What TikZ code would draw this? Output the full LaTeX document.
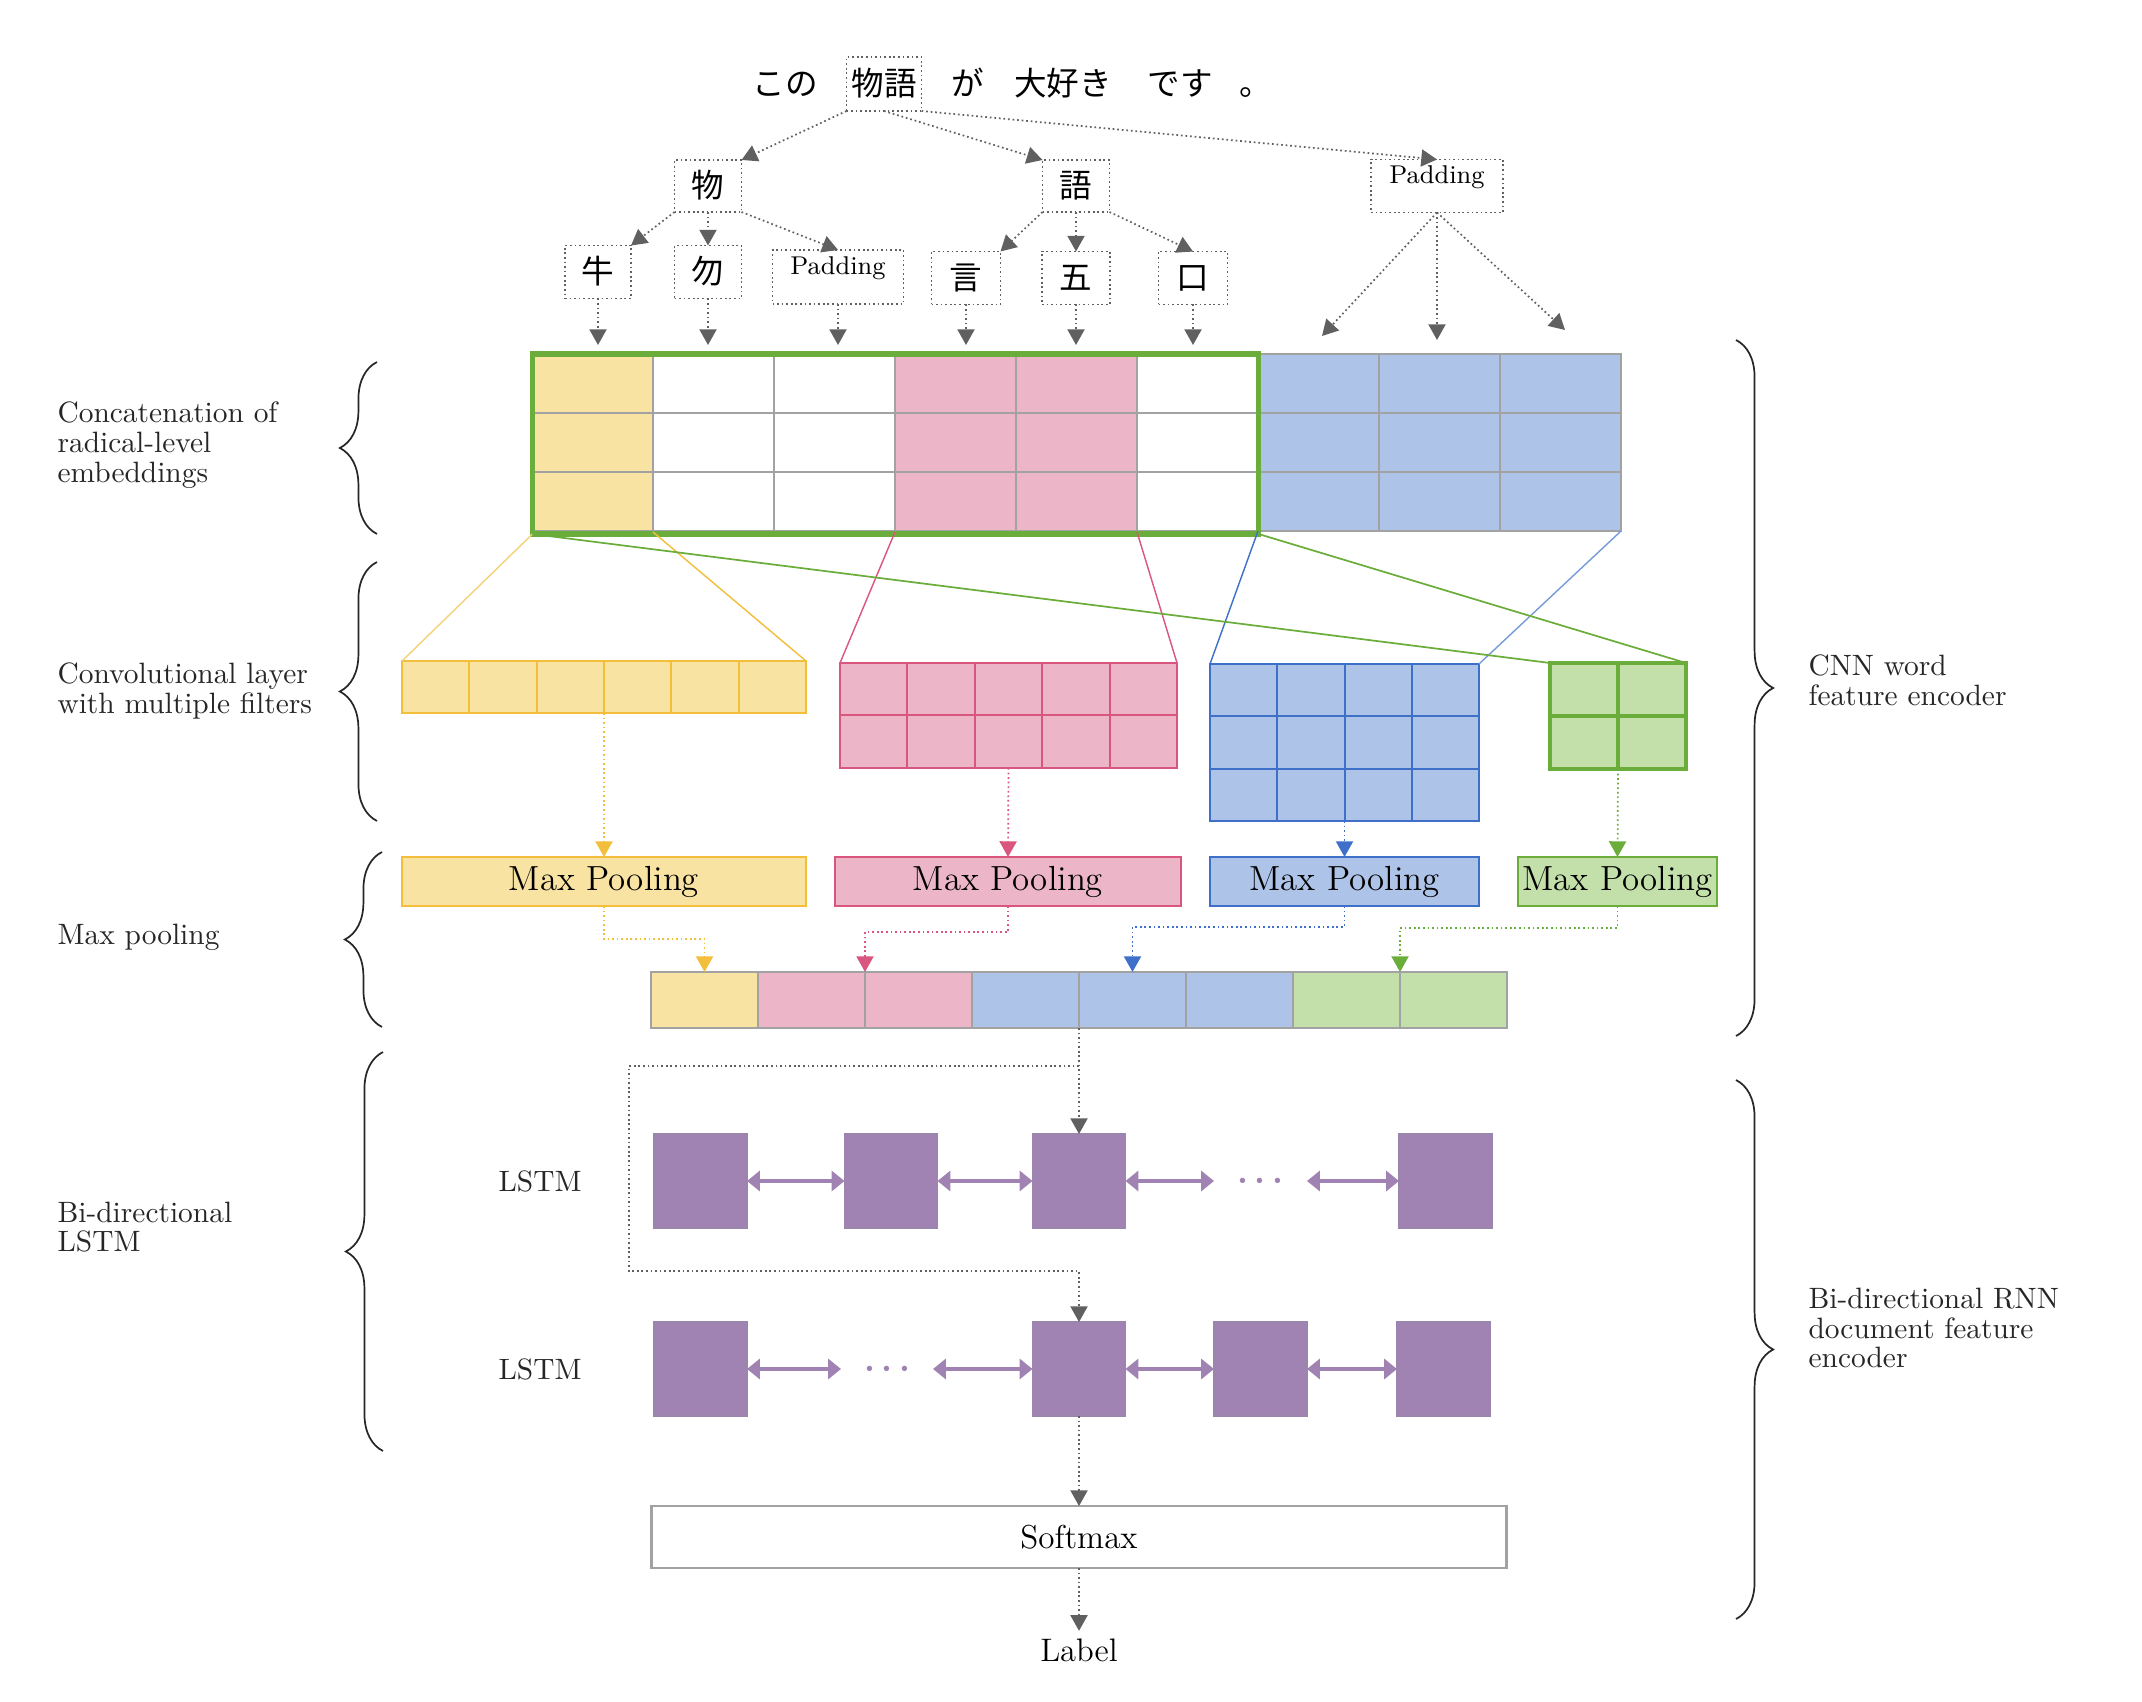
\documentclass[tikz,border=0pt]{standalone}
\usepackage{fontspec}
\newfontfamily\jpfont{Noto Sans CJK JP}
\usetikzlibrary{arrows.meta,decorations.pathreplacing,calc}
\definecolor{cyel}{HTML}{F9E3A2}
\definecolor{cyelD}{HTML}{F2BE3C}
\definecolor{cyelL}{HTML}{F3D27A}
\definecolor{cpink}{HTML}{ECB6C8}
\definecolor{cpinkD}{HTML}{D9567F}
\definecolor{cblue}{HTML}{AEC3E8}
\definecolor{cblueD}{HTML}{3E70C9}
\definecolor{cgreen}{HTML}{C3DFAA}
\definecolor{cgreenD}{HTML}{6AAD3A}
\definecolor{cpurp}{HTML}{A083B3}
\definecolor{cpurpD}{HTML}{9A86AA}
\definecolor{cgrid}{HTML}{A2A2A2}
\definecolor{carrow}{HTML}{606060}
\tikzset{
  px/.style 2 args={minimum width=#1*0.35pt, minimum height=#2*0.35pt},
  jpt/.style={font=\jpfont\fontsize{11.4}{12}\selectfont, text height=9.6pt, text depth=1.8pt, inner sep=0pt, outer sep=0pt},
  padt/.style={font=\fontsize{9}{10}\selectfont, text height=6.5pt, text depth=8.5pt, inner sep=0pt, outer sep=0pt},
  dbox/.style={draw=carrow, densely dotted, line width=0.6pt},
  garrow/.style={draw=carrow, densely dotted, line width=0.6pt, -{Triangle[length=5.5pt,width=6pt]}},
  carr/.style={draw=#1, densely dotted, line width=0.6pt, -{Triangle[length=5.5pt,width=6pt]}},
  bid/.style={draw=cpurp, line width=1.1pt, {Triangle[length=4.5pt,width=7pt]}-{Triangle[length=4.5pt,width=7pt]}},
  blk/.style={inner sep=0pt, outer sep=0pt},
  mp/.style={blk, line width=0.8pt, font=\fontsize{12.2}{12.2}\selectfont},
  lstm/.style={blk, fill=cpurp, draw=cpurpD, line width=0.4pt, px={93}{94}},
  lbl/.style={align=left, inner sep=0pt, text=black!85, font=\fontsize{10.3}{10.4}\selectfont},
  brc/.style={decorate, decoration={brace, amplitude=13pt}, line width=0.6pt, draw=black!85},
  dotsn/.style={text=cpurp, inner sep=0pt, font=\fontsize{12.5}{12.5}\selectfont\boldmath}
}
\begin{document}
\begin{tikzpicture}[x=0.35pt,y=-0.35pt]
\useasboundingbox (0,0) rectangle (2142,1702);

% ---------- sentence ----------
\node[jpt] (w0) at (785,84) {この};
\node[jpt, dbox, px={75}{54}] (w1) at (884,84) {物語};
\node[jpt] (w2) at (968,84) {が};
\node[jpt] (w3) at (1063,84) {大好き};
\node[jpt] (w4) at (1180,84) {です};
\node[jpt] (w5) at (1256,84) {。};

% ---------- characters ----------
\node[jpt, dbox, px={67}{52}] (mono) at (708,186) {物};
\node[jpt, dbox, px={67}{52}] (go) at (1076,186) {語};
\node[padt, dbox, px={132}{53}] (pad1) at (1437,186) {Padding};

\node[jpt, dbox, px={66}{53}] (ushi) at (598,272) {牛};
\node[jpt, dbox, px={67}{53}] (bu) at (708,272) {勿};
\node[padt, dbox, px={131}{54}] (pad2) at (838,277) {Padding};
\node[jpt, dbox, px={69}{53}] (gen) at (966,278) {言};
\node[jpt, dbox, px={68}{53}] (five) at (1076,278) {五};
\node[jpt, dbox, px={69}{53}] (kuchi) at (1193,278) {口};

\draw[garrow] (w1.south west) -- (mono.north east);
\draw[garrow] (w1.south) -- (go.north west);
\draw[garrow] (w1.south east) -- (pad1.north);
\draw[garrow] (mono.south west) -- (ushi.north east);
\draw[garrow] (mono.south) -- (bu.north);
\draw[garrow] (mono.south east) -- (pad2.north);
\draw[garrow] (go.south west) -- (gen.north east);
\draw[garrow] (go.south) -- (five.north);
\draw[garrow] (go.south east) -- (kuchi.north);

\coordinate (e1) at (598,345);
\coordinate (e2) at (708,345);
\coordinate (e3) at (838,345);
\coordinate (e4) at (966,345);
\coordinate (e5) at (1076,345);
\coordinate (e6) at (1193,345);
\draw[garrow] (ushi.south) -- (e1);
\draw[garrow] (bu.south) -- (e2);
\draw[garrow] (pad2.south) -- (e3);
\draw[garrow] (gen.south) -- (e4);
\draw[garrow] (five.south) -- (e5);
\draw[garrow] (kuchi.south) -- (e6);

\coordinate (p1) at (1322,336);
\coordinate (p2) at (1437,340);
\coordinate (p3) at (1565,330);
\draw[garrow] (pad1.south) -- (p1);
\draw[garrow] (pad1.south) -- (p2);
\draw[garrow] (pad1.south) -- (p3);

% ---------- embedding grid ----------
\foreach \c/\fc in {0/cyel,1/white,2/white,3/cpink,4/cpink,5/white,6/cblue,7/cblue,8/cblue}
  \foreach \r in {0,1,2}
    \filldraw[fill=\fc, draw=cgrid, line width=0.7pt] ({532+121*\c},{354+59*\r}) rectangle ++(121,59);
\node[blk, px={363}{177}, draw=cgrid, line width=0.7pt] (padg) at (1439.5,442.5) {};
\node[blk, px={726}{180}, draw=cgreenD, line width=1.8pt] (emb) at (895.5,444) {};
\coordinate (yk) at (653,532);
\coordinate (pk1) at (895,532);
\coordinate (pk2) at (1137,532);

% ---------- convolution blocks ----------
\node[blk, px={404}{52}, fill=cyel, draw=cyelD, line width=0.7pt] (yconv) at (604,687) {};
\foreach \i in {1,...,5} \draw[cyelD, line width=0.7pt] ({402+67.33*\i},661) -- ++(0,52);

\node[blk, px={337}{105}, fill=cpink, draw=cpinkD, line width=0.7pt] (pconv) at (1008.5,715.5) {};
\foreach \i in {1,...,4} \draw[cpinkD, line width=0.7pt] ({840+67.4*\i},663) -- ++(0,105);
\draw[cpinkD, line width=0.7pt] (840,715.5) -- (1177,715.5);

\node[blk, px={269}{157}, fill=cblue, draw=cblueD, line width=0.7pt] (bconv) at (1344.5,742.5) {};
\foreach \i in {1,2,3} \draw[cblueD, line width=0.7pt] ({1210+67.25*\i},664) -- ++(0,157);
\foreach \j in {1,2} \draw[cblueD, line width=0.7pt] (1210,{664+52.33*\j}) -- ++(269,0);

\node[blk, px={136}{106}, fill=cgreen, draw=cgreenD, line width=1.2pt] (gconv) at (1618,716) {};
\draw[cgreenD, line width=1.2pt] (1618,663) -- (1618,769);
\draw[cgreenD, line width=1.2pt] (1550,716) -- (1686,716);

\draw[cyelL, line width=0.5pt] (emb.south west) -- (yconv.north west);
\draw[cyelD, line width=0.5pt] (yk) -- (yconv.north east);
\draw[cpinkD, line width=0.5pt] (pk1) -- (pconv.north west);
\draw[cpinkD, line width=0.5pt] (pk2) -- (pconv.north east);
\draw[cblueD, line width=0.5pt] (padg.south west) -- (bconv.north west);
\draw[cblueD!70, line width=0.5pt] (padg.south east) -- (bconv.north east);
\draw[cgreenD, line width=0.6pt] (emb.south west) -- (gconv.north west);
\draw[cgreenD, line width=0.6pt] (emb.south east) -- (gconv.north east);

% ---------- max pooling ----------
\node[mp, px={404}{49}, fill=cyel, draw=cyelD] (ymp) at (604,881.5) {Max Pooling};
\node[mp, px={346}{49}, fill=cpink, draw=cpinkD] (pmp) at (1008,881.5) {Max Pooling};
\node[mp, px={269}{49}, fill=cblue, draw=cblueD] (bmp) at (1344.5,881.5) {Max Pooling};
\node[mp, px={199}{49}, fill=cgreen, draw=cgreenD] (gmp) at (1617.5,881.5) {Max Pooling};

\draw[carr=cyelD] (yconv.south) -- (ymp.north);
\draw[carr=cpinkD] (pconv.south) -- (pmp.north);
\draw[carr=cblueD] (bconv.south) -- (bmp.north);
\draw[carr=cgreenD] (gconv.south) -- (gmp.north);

% ---------- concatenated vector ----------
\foreach \i/\fc in {0/cyel,1/cpink,2/cpink,3/cblue,4/cblue,5/cblue,6/cgreen,7/cgreen}
  \filldraw[fill=\fc, draw=cgrid, line width=0.7pt] ({651+107*\i},972) rectangle ++(107,56);
\node[blk, px={856}{56}, draw=cgrid, line width=0.8pt] (vec) at (1079,1000) {};

\coordinate (v1) at (704.5,972);
\coordinate (v2) at (865,972);
\coordinate (v3) at (1132.5,972);
\coordinate (v4) at (1400,972);
\coordinate (q1) at (704.5,939);
\coordinate (q2) at (865,932);
\coordinate (q3) at (1132.5,927);
\coordinate (q4) at (1400,928);
\draw[carr=cyelD] (ymp.south) |- (q1) -- (v1);
\draw[carr=cpinkD] (pmp.south) |- (q2) -- (v2);
\draw[carr=cblueD] (bmp.south) |- (q3) -- (v3);
\draw[carr=cgreenD] (gmp.south) |- (q4) -- (v4);

% ---------- LSTM ----------
\node[lstm] (L11) at (700.5,1181) {};
\node[lstm] (L12) at (891,1181) {};
\node[lstm] (L13) at (1079,1181) {};
\node[lstm] (L14) at (1445.5,1181) {};
\node[lstm] (L21) at (700.5,1369) {};
\node[lstm] (L22) at (1079,1369) {};
\node[lstm] (L23) at (1260.5,1369) {};
\node[lstm] (L24) at (1443.5,1369) {};

\node[dotsn] (d1) at (1260,1181) {$\cdots$};
\node[dotsn] (d2) at (887,1369) {$\cdots$};
\coordinate (a1) at (1214,1181);
\coordinate (a2) at (1307,1181);
\coordinate (b1) at (841,1369);
\coordinate (b2) at (933,1369);
\draw[bid] (L11.east) -- (L12.west);
\draw[bid] (L12.east) -- (L13.west);
\draw[bid] (L13.east) -- (a1);
\draw[bid] (a2) -- (L14.west);
\draw[bid] (L21.east) -- (b1);
\draw[bid] (b2) -- (L22.west);
\draw[bid] (L22.east) -- (L23.west);
\draw[bid] (L23.east) -- (L24.west);

\node[font=\fontsize{10.3}{10.4}\selectfont, text=black!85] (ls1) at (540,1181) {LSTM};
\node[font=\fontsize{10.3}{10.4}\selectfont, text=black!85] (ls2) at (540,1369) {LSTM};

\coordinate (j1) at (1079,1066);
\coordinate (k1) at (629,1271);
\draw[garrow] (vec.south) -- (L13.north);
\draw[garrow] (j1) -| (k1) -| (L22.north);

% ---------- softmax ----------
\node[blk, px={855}{62}, draw=cgrid, line width=0.8pt, font=\fontsize{11.6}{12}\selectfont] (soft) at (1079,1537) {Softmax};
\node[inner sep=2.5pt, font=\fontsize{11.4}{12}\selectfont] (lab) at (1079,1650) {Label};
\draw[garrow] (L22.south) -- (soft.north);
\draw[garrow] (soft.south) -- (lab.north);

% ---------- braces and labels ----------
\draw[brc] (377,534) -- (377,362);
\draw[brc] (377,821) -- (377,562);
\draw[brc] (382,1027) -- (382,852);
\draw[brc] (383,1451) -- (383,1052);
\draw[brc] (1736,340) -- (1736,1036);
\draw[brc] (1736,1080) -- (1736,1619);

\node[lbl, anchor=west] (t1) at (57,445) {Concatenation of\\radical-level\\embeddings};
\node[lbl, anchor=west] (t2) at (57,691) {Convolutional layer\\with multiple filters};
\node[lbl, anchor=west] (t3) at (57,937) {Max pooling};
\node[lbl, anchor=west] (t4) at (57,1227) {Bi-directional\\LSTM};
\node[lbl, anchor=west] (t5) at (1808,680) {CNN word\\feature encoder};
\node[lbl, anchor=west] (t6) at (1808,1328) {Bi-directional RNN\\document feature\\encoder};
\end{tikzpicture}
\end{document}
